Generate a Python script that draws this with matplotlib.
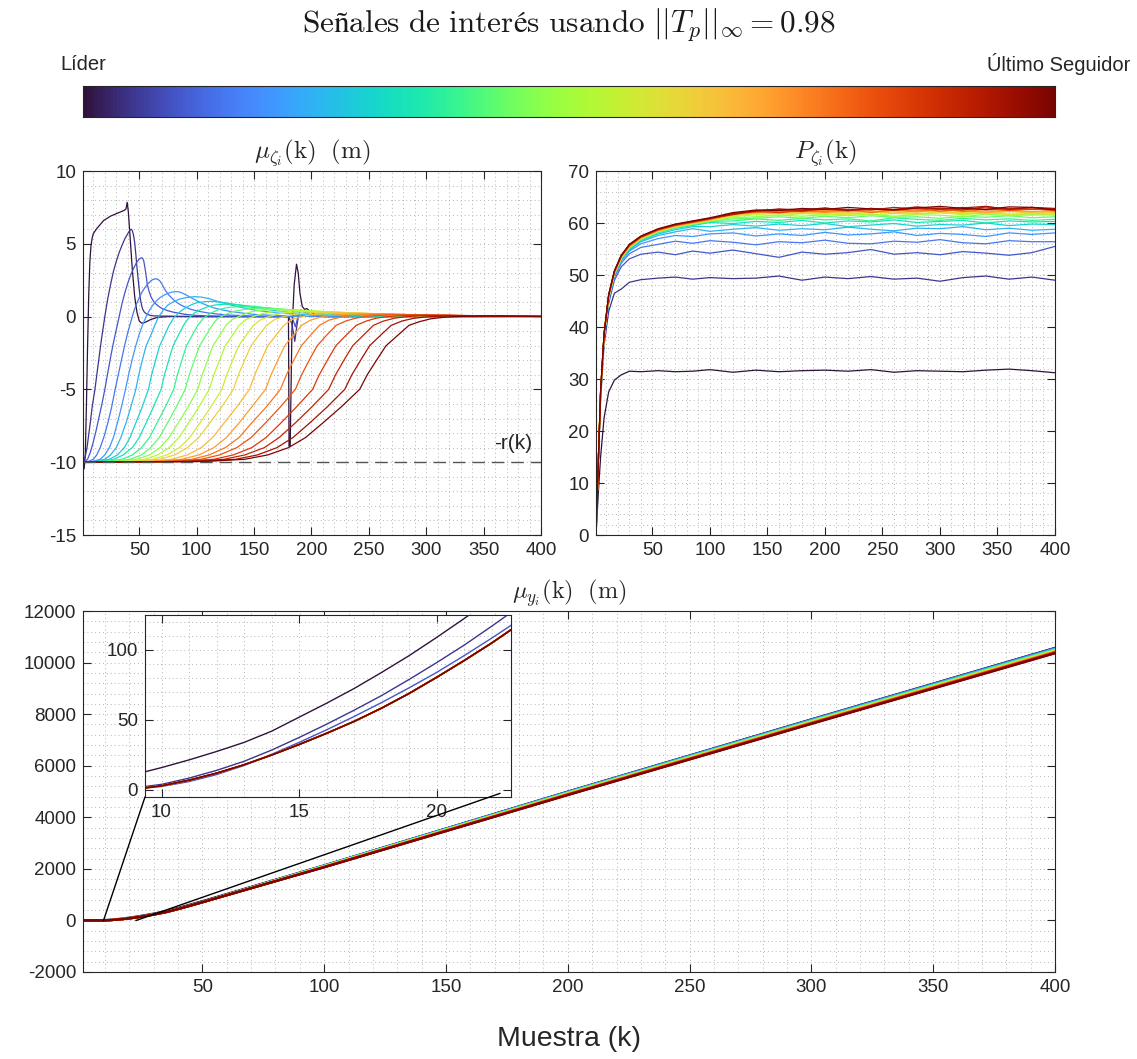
import numpy as np
import matplotlib
matplotlib.use('Agg')
import matplotlib.pyplot as plt
from matplotlib.patches import ConnectionPatch
from matplotlib.ticker import MultipleLocator

plt.rcParams['font.family'] = ['Liberation Sans', 'DejaVu Sans']
plt.rcParams['mathtext.fontset'] = 'cm'
plt.rcParams['axes.unicode_minus'] = False

# ---------------- data ----------------
n_agents = 22  # leader + 21 followers

# mu_zeta_i(k): (k, value) points per vehicle, leader first
mu_curves = [
    [(1, -10.2), (2, -10.45), (3, -9.5), (4, -6), (5, -2), (6, 1.5), (7, 3.8), (8, 4.9), (9, 5.4), (10, 5.7),
     (13, 6.05), (19, 6.6), (25, 6.9), (31, 7.1), (37, 7.3), (38.5, 7.4), (39.5, 7.85), (40.5, 7.2), (42, 5.5),
     (44, 3.2), (46, 1.4), (48, 0.3), (50, -0.3), (52, -0.45), (55, -0.4), (60, -0.2), (66, -0.05), (75, 0),
     (180, 0), (180.5, -8.9), (181.5, -8.9), (183, -1), (185, 2.2), (187, 3.6), (188.5, 3.0), (190, 1.6),
     (192, 0.7), (194, 0.5), (196, 0.55), (199, 0.35), (204, 0.1), (212, 0), (400, 0)],
    [(1, -10), (2, -9.85), (3, -9.6), (4.5, -9.0), (6, -8.1), (7.5, -7.2), (9, -6.2), (11.4, -5), (12.7, -4.2),
     (14, -3.4), (15.5, -2.5), (17, -1.6), (18.5, -0.8), (20, 0), (22.5, 1.2), (25, 2.2), (27.5, 3.1), (30, 3.8),
     (32.5, 4.4), (35, 4.9), (37.5, 5.35), (40, 5.7), (42, 5.95), (43, 6.0), (44, 5.9), (45, 5.6), (46, 5.1),
     (47, 4.3), (48, 3.4), (49, 2.6), (50, 1.85), (51, 1.2), (52, 0.8), (53, 0.5), (54.5, 0.3), (56, 0.2),
     (59, 0.1), (62, 0.05), (100, 0), (180, 0), (183, -0.5), (185.5, -1.7), (187, -0.8), (189, 0.2),
     (191, 0.45), (194, 0.3), (200, 0.1), (210, 0), (400, 0)],
    [(1, -10), (3, -9.95), (5, -9.8), (7.5, -9.3), (10, -8.6), (12.5, -7.8), (15, -6.9), (17.5, -6.0), (20, -5),
     (22.5, -3.9), (25, -2.8), (27.5, -1.8), (30, -0.9), (32.5, 0.0), (35, 0.9), (37.5, 1.65), (40, 2.3),
     (42.5, 2.85), (45, 3.3), (47.5, 3.7), (50, 3.95), (52, 4.05), (53, 4.0), (54, 3.8), (55.5, 3.1), (57, 2.2),
     (58.5, 1.75), (60, 1.4), (62, 1.1), (64, 0.9), (67, 0.7), (70, 0.55), (75, 0.4), (80, 0.3), (90, 0.15),
     (100, 0.08), (110, 0.05), (150, 0), (183, 0), (186, -0.7), (189, 0.2), (193, 0.05), (400, 0)],
    [(1, -10), (5, -9.97), (10, -9.8), (13, -9.5), (16, -9.0), (19.5, -8.2), (23, -7.2), (26, -6.2), (29, -5),
     (32, -3.9), (35, -2.8), (37.5, -1.9), (40, -1.1), (42.5, -0.4), (45, 0.3), (47.5, 0.85), (50, 1.3),
     (52.5, 1.7), (55, 2.0), (57.5, 2.25), (60, 2.45), (62, 2.55), (64, 2.6), (66, 2.57), (68, 2.45), (70, 2.2),
     (72, 1.9), (75, 1.55), (78, 1.3), (81, 1.08), (85, 0.85), (90, 0.65), (95, 0.5), (102, 0.36), (110, 0.25),
     (120, 0.16), (130, 0.1), (145, 0.05), (160, 0.03), (400, 0)],
    [(1, -10), (8, -9.97), (16, -9.8), (20, -9.5), (24, -9.0), (27.5, -8.3), (31, -7.3), (34.5, -6.2), (38, -5),
     (41, -3.9), (44, -2.9), (47, -2.0), (50, -1.2), (53, -0.55), (56, 0), (59, 0.45), (62, 0.8), (65, 1.08),
     (68, 1.3), (71.5, 1.47), (75, 1.6), (78.5, 1.68), (82, 1.72), (85, 1.69), (88, 1.6), (91.5, 1.46),
     (95, 1.3), (100, 1.1), (105, 0.9), (110, 0.74), (115, 0.6), (122, 0.46), (130, 0.35), (140, 0.24),
     (150, 0.15), (165, 0.09), (180, 0.05), (400, 0)],
    [(1, -10), (11, -9.95), (20, -9.8), (25, -9.5), (30, -9.0), (34, -8.3), (38.5, -7.3), (42.7, -6.2), (47, -5),
     (49.6, -4.0), (53, -2.9), (56, -2.0), (60, -1.3), (63.5, -0.6), (67, 0), (71, 0.45), (75, 0.8), (80, 1.03),
     (85, 1.2), (91, 1.31), (98, 1.37), (104, 1.34), (110, 1.25), (120, 1.0), (135, 0.7), (150, 0.45),
     (170, 0.25), (200, 0.1), (240, 0.03), (400, 0)],
    [(1, -10), (12, -9.95), (24, -9.8), (31, -9.5), (37, -9.0), (42, -8.3), (47, -7.3), (52.6, -6.2), (58, -5),
     (60.8, -4.0), (64.6, -2.9), (67.8, -2.0), (72, -1.3), (76, -0.6), (80, -0.1), (85, 0.3), (90, 0.6),
     (95, 0.8), (100, 0.95), (106, 1.02), (112, 1.05), (118, 1.02), (125, 0.95), (140, 0.75), (160, 0.5),
     (180, 0.3), (200, 0.15), (230, 0.06), (270, 0.02), (400, 0)],
    [(1, -10), (14, -9.95), (28, -9.8), (36, -9.5), (44, -9.0), (50, -8.3), (56, -7.3), (62.4, -6.2), (69, -5),
     (72, -4.0), (76, -2.9), (79.5, -2.0), (84, -1.3), (88.5, -0.6), (93, -0.1), (98, 0.25), (104, 0.5),
     (110, 0.68), (115, 0.78), (120, 0.83), (126, 0.85), (133, 0.83), (140, 0.78), (160, 0.6), (180, 0.42),
     (200, 0.27), (220, 0.15), (250, 0.06), (290, 0.02), (400, 0)],
    [(1, -10), (19, -9.95), (35, -9.8), (44, -9.5), (52, -9.0), (59, -8.3), (65.5, -7.3), (72.8, -6.2), (80, -5),
     (83.2, -4.0), (87.5, -2.9), (91.2, -2.0), (96, -1.3), (101, -0.6), (106, -0.1), (112, 0.22), (118, 0.45),
     (124, 0.58), (130, 0.65), (140, 0.7), (148, 0.69), (155, 0.65), (175, 0.5), (195, 0.36), (215, 0.23),
     (240, 0.12), (270, 0.05), (310, 0.01), (400, 0)],
    [(1, -10), (25, -9.95), (42, -9.8), (52, -9.5), (60, -9.0), (67.5, -8.3), (74.6, -7.3), (82.3, -6.2), (90, -5),
     (93.6, -4.0), (98.5, -2.9), (102.6, -2.0), (108, -1.3), (113.5, -0.6), (118, -0.15), (125, 0.15),
     (132, 0.35), (139, 0.46), (145, 0.53), (155, 0.58), (162, 0.57), (170, 0.54), (190, 0.42), (210, 0.3),
     (230, 0.2), (255, 0.1), (290, 0.04), (330, 0.01), (400, 0)],
    [(1, -10), (30, -9.95), (48, -9.8), (59, -9.5), (68, -9.0), (76, -8.3), (84, -7.3), (92.5, -6.2), (101, -5),
     (104.8, -4.0), (110, -2.9), (114.3, -2.0), (120, -1.3), (125.5, -0.6), (131, -0.2), (138, 0.05),
     (145, 0.28), (151, 0.38), (158, 0.45), (168, 0.5), (176, 0.49), (185, 0.46), (205, 0.37), (225, 0.27),
     (245, 0.18), (270, 0.1), (300, 0.04), (340, 0.01), (400, 0)],
    [(1, -10), (36, -9.95), (55, -9.8), (66, -9.5), (76, -9.0), (84.7, -8.3), (93, -7.3), (102, -6.2), (111, -5),
     (115, -4.0), (120.4, -2.9), (125, -2.0), (131, -1.3), (137, -0.6), (143, -0.2), (150, 0.02), (158, 0.22),
     (164, 0.31), (170, 0.37), (182, 0.42), (190, 0.41), (200, 0.39), (220, 0.31), (240, 0.23), (260, 0.15),
     (285, 0.08), (315, 0.03), (350, 0.01), (400, 0)],
    [(1, -10), (41, -9.95), (62, -9.8), (74, -9.5), (85, -9.0), (94, -8.3), (103, -7.3), (112.4, -6.2), (122, -5),
     (126.2, -4.0), (131.9, -2.9), (136.7, -2.0), (143, -1.3), (149.5, -0.6), (156, -0.2), (163, 0.0),
     (171, 0.18), (178, 0.26), (184, 0.31), (196, 0.36), (205, 0.35), (215, 0.33), (235, 0.26), (255, 0.19),
     (275, 0.12), (300, 0.06), (330, 0.02), (400, 0)],
    [(1, -10), (46, -9.95), (68, -9.8), (81, -9.5), (92, -9.0), (102, -8.3), (111.5, -7.3), (121.8, -6.2),
     (132, -5), (136.4, -4.0), (142.3, -2.9), (147.4, -2.0), (154, -1.3), (161, -0.6), (168, -0.2), (176, 0.0),
     (184, 0.15), (191, 0.21), (198, 0.26), (210, 0.3), (220, 0.29), (230, 0.27), (250, 0.21), (270, 0.15),
     (290, 0.1), (315, 0.05), (345, 0.02), (400, 0)],
    [(1, -10), (54, -9.95), (78, -9.8), (92, -9.5), (104, -9.0), (114, -8.3), (124, -7.3), (135, -6.2), (146, -5),
     (150.6, -4.0), (156.8, -2.9), (162, -2.0), (169, -1.3), (176, -0.6), (183, -0.2), (191, -0.02),
     (199, 0.12), (206, 0.17), (213, 0.21), (225, 0.25), (235, 0.245), (245, 0.23), (265, 0.18), (285, 0.13),
     (305, 0.08), (330, 0.04), (360, 0.01), (400, 0)],
    [(1, -10), (61, -9.95), (87, -9.8), (102, -9.5), (115, -9.0), (126, -8.3), (137, -7.3), (148, -6.2), (160, -5),
     (164.8, -4.0), (171.3, -2.9), (176.8, -2.0), (184, -1.3), (191.5, -0.6), (199, -0.25), (207, -0.05),
     (216, 0.08), (224, 0.13), (232, 0.17), (245, 0.2), (255, 0.195), (265, 0.18), (285, 0.13), (305, 0.09),
     (330, 0.05), (360, 0.02), (400, 0)],
    [(1, -10), (69, -9.95), (96, -9.8), (111, -9.5), (125, -9.0), (137, -8.3), (148, -7.3), (160.7, -6.2),
     (173, -5), (178.2, -4.0), (185.2, -2.9), (191.2, -2.0), (199, -1.3), (207, -0.6), (215, -0.25),
     (223, -0.08), (232, 0.05), (240, 0.1), (248, 0.13), (262, 0.16), (272, 0.16), (282, 0.15), (302, 0.11),
     (325, 0.07), (350, 0.03), (400, 0)],
    [(1, -10), (76, -9.95), (104, -9.8), (120, -9.5), (135, -9.0), (147.5, -8.3), (160, -7.3), (173, -6.2),
     (186, -5), (191.4, -4.0), (198.7, -2.9), (205, -2.0), (213, -1.3), (221.5, -0.6), (230, -0.3),
     (239, -0.1), (248, 0.02), (256, 0.07), (265, 0.1), (280, 0.13), (290, 0.13), (300, 0.12), (320, 0.09),
     (345, 0.05), (370, 0.02), (400, 0)],
    [(1, -10), (85, -9.95), (115, -9.8), (132, -9.5), (148, -9.0), (160.6, -8.3), (173.5, -7.3), (187, -6.2),
     (201, -5), (206.8, -4.0), (214.6, -2.9), (221.3, -2.0), (230, -1.3), (239, -0.6), (248, -0.3),
     (257, -0.1), (266, 0), (275, 0.05), (284, 0.08), (300, 0.1), (320, 0.09), (345, 0.06), (370, 0.03),
     (400, 0.01)],
    [(1, -10), (92, -9.95), (124, -9.8), (142, -9.5), (159, -9.0), (172, -8.3), (186, -7.3), (200.4, -6.2),
     (215, -5), (221, -4.0), (229, -2.9), (236, -2.0), (245, -1.3), (254, -0.6), (263, -0.3), (273, -0.1),
     (283, 0), (292, 0.04), (302, 0.06), (320, 0.08), (345, 0.06), (370, 0.03), (400, 0.01)],
    [(1, -10), (101, -9.95), (134, -9.8), (153, -9.5), (170, -9.0), (184, -8.3), (198.6, -7.3), (213.8, -6.2),
     (229, -5), (235.2, -4.0), (243.6, -2.9), (250.7, -2.0), (260, -1.3), (269.5, -0.6), (279, -0.3),
     (289, -0.12), (300, -0.02), (310, 0.02), (320, 0.04), (340, 0.05), (365, 0.04), (400, 0.02)],
    [(1, -10), (107, -9.95), (142, -9.8), (162, -9.5), (180, -9.0), (195, -8.3), (210, -7.3), (226, -6.2),
     (242, -5), (248.6, -4.0), (257.5, -2.9), (265, -2.0), (275, -1.3), (285, -0.6), (294, -0.35),
     (304, -0.15), (315, -0.05), (325, 0), (335, 0.02), (360, 0.04), (400, 0.02)],
]
r_ref = -10

# P_zeta_i(k)
P_k = [1, 3, 5, 8, 12, 17, 23, 30, 40, 55, 70, 85, 100, 120, 140, 160, 180, 200, 220, 240, 260, 280, 300,
       320, 340, 360, 380, 400]
P_vals = [
    [0, 8, 15, 22.5, 27.5, 29.8, 30.8, 31.5, 31.4, 31.6, 31.4, 31.5, 31.8, 31.3, 31.7, 31.4, 31.6, 31.7, 31.5, 31.8, 31.3, 31.6, 31.5, 31.4, 31.7, 31.9, 31.6, 31.2],
    [0, 14, 26, 36.5, 43, 46.5, 47.3, 48.6, 49.1, 49.4, 49.6, 49.2, 49.5, 49.3, 49.4, 49.8, 49.0, 49.6, 49.3, 49.7, 49.2, 49.4, 48.8, 49.5, 49.8, 49.2, 49.6, 49.0],
    [0, 14, 27, 37.5, 44.5, 49, 51.6, 53.1, 54.0, 54.4, 53.9, 54.6, 54.2, 54.8, 54.1, 53.4, 54.4, 54.0, 54.3, 54.9, 54.0, 54.3, 53.9, 54.5, 54.2, 53.8, 54.3, 55.5],
    [0, 14, 27, 37.8, 45, 49.6, 52.3, 54.1, 55.3, 55.9, 56.5, 56.1, 56.6, 56.3, 55.8, 56.4, 56.2, 56.7, 56.1, 56.0, 56.5, 56.3, 56.8, 56.2, 56.0, 56.6, 56.4, 56.4],
    [0, 14, 27, 38, 45.3, 49.9, 52.7, 54.6, 56.0, 57.0, 57.6, 57.4, 57.9, 58.1, 57.5, 57.9, 57.6, 58.2, 57.7, 57.9, 58.3, 57.6, 58.0, 57.8, 57.4, 58.1, 57.8, 58.1],
    [0, 14, 27, 38, 45.4, 50.0, 52.9, 54.8, 56.4, 57.6, 58.3, 58.9, 58.4, 58.8, 59.1, 58.6, 58.9, 58.7, 59.2, 58.8, 58.5, 59.0, 58.9, 59.3, 58.7, 59.0, 58.6, 58.8],
    [0, 14, 27, 38, 45.5, 50.1, 53.0, 55.0, 56.6, 57.9, 58.7, 59.3, 59.3, 59.7, 59.4, 59.8, 59.5, 59.9, 59.3, 59.6, 59.9, 59.4, 59.7, 59.6, 60.0, 59.5, 59.8, 59.7],
    [0, 14, 27, 38, 45.5, 50.1, 53.1, 55.1, 56.7, 58.1, 59.0, 59.5, 60.1, 59.9, 60.3, 60.1, 60.5, 60.0, 60.4, 60.2, 60.6, 60.1, 60.3, 60.5, 60.0, 60.4, 60.2, 60.3],
    [0, 14, 27, 38, 45.6, 50.2, 53.2, 55.2, 56.8, 58.2, 59.1, 59.7, 60.3, 60.4, 60.8, 60.5, 60.9, 60.6, 60.8, 60.4, 61.0, 60.7, 60.5, 60.9, 60.6, 60.8, 60.5, 60.7],
    [0, 14, 27, 38, 45.6, 50.2, 53.2, 55.2, 56.9, 58.3, 59.2, 59.8, 60.4, 60.8, 60.9, 61.2, 60.9, 61.3, 61.0, 61.4, 61.1, 61.2, 60.9, 61.3, 61.1, 61.4, 61.0, 61.2],
    [0, 14, 27.2, 38.2, 45.7, 50.3, 53.3, 55.3, 56.9, 58.3, 59.2, 59.8, 60.4, 61.0, 61.2, 61.5, 61.3, 61.6, 61.4, 61.7, 61.3, 61.6, 61.5, 61.2, 61.7, 61.4, 61.6, 61.5],
    [0, 14, 27.2, 38.2, 45.7, 50.3, 53.3, 55.3, 57.0, 58.4, 59.3, 59.9, 60.5, 61.2, 61.6, 61.4, 61.8, 61.6, 61.9, 61.5, 61.8, 61.7, 62.0, 61.6, 61.9, 61.7, 61.5, 61.8],
    [0, 14, 27.2, 38.3, 45.8, 50.4, 53.4, 55.4, 57.0, 58.4, 59.3, 59.9, 60.5, 61.4, 61.8, 61.7, 62.0, 61.8, 61.6, 62.1, 61.9, 61.7, 62.0, 61.8, 62.1, 61.6, 61.9, 61.7],
    [0, 14, 27.3, 38.3, 45.8, 50.4, 53.4, 55.4, 57.1, 58.5, 59.4, 60.0, 60.6, 61.5, 61.9, 62.1, 61.8, 62.2, 61.9, 62.0, 62.3, 61.8, 62.1, 62.0, 61.8, 62.2, 61.9, 62.0],
    [0, 14, 27.3, 38.4, 45.9, 50.5, 53.5, 55.5, 57.1, 58.5, 59.4, 60.0, 60.6, 61.6, 62.0, 62.2, 62.0, 62.4, 62.1, 62.3, 61.9, 62.4, 62.2, 62.5, 62.0, 62.3, 62.1, 62.2],
    [0, 14, 27.4, 38.4, 45.9, 50.5, 53.5, 55.5, 57.2, 58.6, 59.5, 60.1, 60.7, 61.7, 62.1, 61.9, 62.3, 62.0, 62.4, 62.2, 62.5, 62.1, 62.6, 62.3, 62.1, 62.5, 62.2, 62.4],
    [0, 14, 27.4, 38.5, 46.0, 50.6, 53.6, 55.6, 57.2, 58.6, 59.5, 60.1, 60.7, 61.8, 62.2, 62.1, 62.4, 62.2, 62.6, 62.0, 62.5, 62.3, 62.7, 62.2, 62.6, 62.4, 62.8, 62.3],
    [0, 14, 27.5, 38.5, 46.0, 50.6, 53.6, 55.7, 57.3, 58.7, 59.6, 60.2, 60.8, 61.7, 62.1, 62.4, 62.2, 62.6, 62.3, 62.7, 62.4, 62.8, 62.3, 62.6, 62.9, 62.4, 62.7, 62.5],
    [0, 14, 27.5, 38.6, 46.1, 50.7, 53.7, 55.7, 57.3, 58.7, 59.6, 60.2, 60.8, 61.9, 62.3, 62.0, 62.5, 62.7, 62.4, 62.8, 62.5, 62.9, 62.6, 63.0, 62.5, 62.8, 62.6, 62.7],
    [0, 14, 27.6, 38.6, 46.1, 50.7, 53.7, 55.8, 57.4, 58.8, 59.7, 60.3, 60.9, 61.6, 62.4, 62.6, 62.3, 62.8, 62.6, 62.5, 63.0, 62.7, 62.9, 62.5, 63.1, 62.7, 63.0, 62.6],
    [0, 14, 27.6, 38.7, 46.2, 50.8, 53.8, 55.8, 57.4, 58.8, 59.7, 60.3, 60.9, 61.8, 62.3, 62.7, 62.5, 62.9, 62.4, 62.8, 62.6, 63.1, 62.7, 62.9, 63.2, 62.6, 63.0, 62.8],
    [0, 14, 27.7, 38.7, 46.2, 50.8, 53.8, 55.9, 57.5, 58.9, 59.8, 60.4, 61.0, 62.0, 62.5, 62.4, 62.8, 62.6, 63.0, 62.7, 62.5, 62.9, 63.2, 62.8, 62.6, 63.1, 63.0, 62.5],
]

# mu_y_i(k): early part (k <= 50) and late part (k = 100..400)
y_k_early = [1, 9, 10, 11, 12, 13, 14, 15, 16, 17, 18, 19, 20, 21, 22, 23, 26, 30, 35, 40, 50]
y_early_leader = [0, 11, 16, 21.5, 27.5, 34, 42, 52, 62, 72.5, 84, 96, 109, 122.5, 136.5, 151, 197, 265, 362, 484, 748]
y_early_f1 = [0, 1.5, 4, 8.5, 14, 20.5, 28.5, 37.5, 47, 57, 67.5, 79, 91, 103.5, 117, 131, 176, 243, 340, 460, 725]
y_early_f2 = [0, 0.6, 2.5, 6, 11, 17.5, 25.5, 34, 43, 52.5, 62.5, 73, 84, 96, 108.5, 121.5, 167, 233, 328, 448, 712]
y_early_rest = [0, 0.5, 3, 7, 12, 18, 25, 32.5, 40.5, 49, 58.5, 69, 80.5, 92.5, 105, 118.5, 162, 228, 322, 440, 705]
y_k_late = [100, 200, 300, 400]
y_late = [
    [2134, 4997, 7799, 10570], [2130, 4990, 7790, 10560], [2127, 4984, 7782, 10550], [2123, 4977, 7773, 10540],
    [2120, 4971, 7765, 10530], [2116, 4964, 7756, 10520], [2113, 4958, 7748, 10510], [2109, 4951, 7739, 10500],
    [2106, 4945, 7731, 10490], [2102, 4938, 7722, 10480], [2099, 4932, 7714, 10470], [2095, 4925, 7705, 10460],
    [2092, 4919, 7697, 10450], [2088, 4912, 7688, 10440], [2085, 4906, 7680, 10430], [2081, 4899, 7671, 10420],
    [2078, 4893, 7663, 10410], [2074, 4886, 7654, 10400], [2071, 4880, 7646, 10390], [2067, 4873, 7637, 10380],
    [2064, 4867, 7629, 10370], [2060, 4860, 7620, 10360],
]
zoom_xlim = [9.4, 22.7]
zoom_ylim = [-5, 125]

# ---------------- figure ----------------
cmap = plt.get_cmap('turbo')
colors = [cmap(i / (n_agents - 1)) for i in range(n_agents)]
axis_col = '#262626'

fig = plt.figure(figsize=(11.37, 10.59), dpi=100)
W, H = 1137, 1059


def box(l, t, r, b):
    return [l / W, 1 - b / H, (r - l) / W, (b - t) / H]


def style(ax, xminor, yminor, size=13.5):
    ax.tick_params(which='major', direction='in', top=True, right=True, length=6, width=0.8,
                   labelsize=size, colors=axis_col, pad=5)
    ax.xaxis.set_minor_locator(MultipleLocator(xminor))
    ax.yaxis.set_minor_locator(MultipleLocator(yminor))
    ax.tick_params(which='minor', length=0)
    ax.grid(which='both', linestyle=(0, (1, 3)), color='#b4b4b4', linewidth=0.7)
    ax.set_axisbelow(True)
    for s in ax.spines.values():
        s.set_color(axis_col)
        s.set_linewidth(0.8)


# title
fig.text(0.5, 1 - 25 / H, r'$\mathrm{Señales\ de\ interés\ usando}\ ||T_p||_\infty = 0.98$',
         ha='center', va='center', fontsize=22.5, color='#1a1a1a')

# colour bar strip
cax = fig.add_axes(box(83, 86, 1055, 117))
cax.imshow(np.linspace(0, 1, 256)[None, :], aspect='auto', cmap=cmap)
cax.set_xticks([])
cax.set_yticks([])
for s in cax.spines.values():
    s.set_color(axis_col)
    s.set_linewidth(0.8)
fig.text(60 / W, 1 - 64 / H, 'Líder', ha='left', va='center', fontsize=14.5, color=axis_col)
fig.text(1130 / W, 1 - 64 / H, 'Último Seguidor', ha='right', va='center', fontsize=14.5, color=axis_col)

# mu_zeta
ax1 = fig.add_axes(box(83, 171, 541, 535))
for i, pts in enumerate(mu_curves):
    ks, vs = zip(*pts)
    ax1.plot(ks, vs, color=colors[i], lw=0.9)
ax1.axhline(r_ref, color='#555555', lw=1.0, dashes=(9, 5))
ax1.text(392, -9.35, '-r(k)', ha='right', va='bottom', fontsize=15, color=axis_col)
ax1.set_xlim(1, 400)
ax1.set_ylim(-15, 10)
ax1.set_xticks(range(50, 401, 50))
ax1.set_yticks(range(-15, 11, 5))
style(ax1, 10, 1)
ax1.set_title(r'$\mu_{\zeta_i}(\mathrm{k})\ \ (\mathrm{m})$', fontsize=18, pad=9, color=axis_col)

# P_zeta
ax2 = fig.add_axes(box(596, 171, 1055, 535))
for i, vals in enumerate(P_vals):
    ax2.plot(P_k, vals, color=colors[i], lw=0.9)
ax2.set_xlim(1, 400)
ax2.set_ylim(0, 70)
ax2.set_xticks(range(50, 401, 50))
ax2.set_yticks(range(0, 71, 10))
style(ax2, 10, 2)
ax2.set_title(r'$P_{\zeta_i}(\mathrm{k})$', fontsize=18, pad=9, color=axis_col)

# mu_y
ax3 = fig.add_axes(box(83, 611, 1055, 972))
axins = fig.add_axes(box(145, 615, 511, 797), zorder=5)
for i in range(n_agents):
    if i == 0:
        early = y_early_leader
    elif i == 1:
        early = y_early_f1
    elif i == 2:
        early = y_early_f2
    else:
        early = y_early_rest
    ks = y_k_early + y_k_late
    vs = early + y_late[i]
    ax3.plot(ks, vs, color=colors[i], lw=1.6)
    axins.plot(ks, vs, color=colors[i], lw=1.0)
ax3.set_xlim(1, 400)
ax3.set_ylim(-2000, 12000)
ax3.set_xticks(range(50, 401, 50))
ax3.set_yticks(range(-2000, 12001, 2000))
style(ax3, 10, 400)
ax3.set_title(r'$\mu_{y_i}(\mathrm{k})\ \ (\mathrm{m})$', fontsize=17.5, pad=9, color=axis_col)
ax3.set_xlabel('Muestra (k)', fontsize=20.5, color=axis_col, labelpad=22)

axins.set_facecolor('white')
axins.set_xlim(*zoom_xlim)
axins.set_ylim(*zoom_ylim)
axins.set_xticks([10, 15, 20])
axins.set_yticks([0, 50, 100])
style(axins, 1, 10)

for xa, xb in [((zoom_xlim[0], zoom_ylim[0]), (0.0, 0.0)), ((zoom_xlim[1], zoom_ylim[0]), (0.97, 0.02))]:
    con = ConnectionPatch(xyA=xa, coordsA=ax3.transData, xyB=xb, coordsB=axins.transAxes,
                          color='black', lw=1.0, zorder=6)
    fig.add_artist(con)

fig.savefig('out.png', dpi=100)
